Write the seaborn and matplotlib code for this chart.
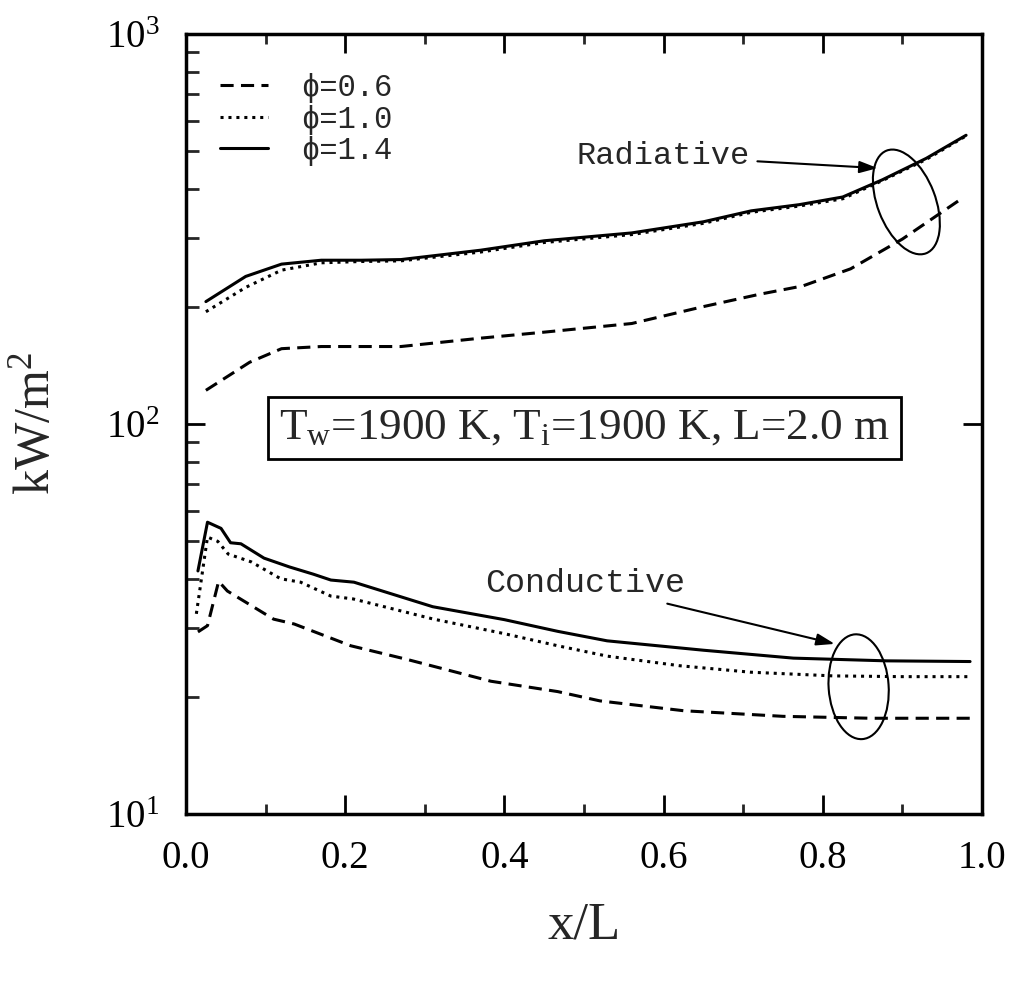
import matplotlib
matplotlib.use("Agg")
import matplotlib.pyplot as plt
import seaborn as sns
import pandas as pd
from matplotlib.patches import Ellipse
from matplotlib.transforms import IdentityTransform, ScaledTranslation
from matplotlib.lines import Line2D
from matplotlib.font_manager import FontProperties
from matplotlib.ticker import MultipleLocator, FormatStrFormatter, LogLocator, NullFormatter

# ---------------- data ----------------
phi_labels = ["\u03d5=0.6", "\u03d5=1.0", "\u03d5=1.4"]

# Radiative flux, kW/m^2
rad_x_06 = [0.025, 0.08, 0.12, 0.17, 0.27, 0.37, 0.45, 0.56, 0.65, 0.72, 0.775, 0.835, 0.90, 0.97]
rad_y_06 = [122, 144, 156, 158, 158, 166, 172, 181, 200, 215, 226, 250, 298, 373]

rad_x_10 = [0.025, 0.075, 0.12, 0.17, 0.22, 0.27, 0.37, 0.45, 0.56, 0.65, 0.71, 0.77, 0.825, 0.875, 0.93, 0.98]
rad_y_10 = [194, 224, 248, 259, 261, 262, 276, 292, 306, 327, 349, 362, 378, 421, 477, 548]

rad_x_14 = [0.025, 0.075, 0.12, 0.17, 0.22, 0.27, 0.37, 0.45, 0.56, 0.65, 0.71, 0.77, 0.825, 0.875, 0.93, 0.98]
rad_y_14 = [206, 239, 257, 263, 263, 264, 279, 295, 309, 330, 352, 365, 382, 423, 480, 550]

# Conductive flux, kW/m^2
con_x_06 = [0.015, 0.027, 0.041, 0.052, 0.11, 0.136, 0.207, 0.278, 0.383, 0.467, 0.52, 0.625, 0.75, 0.86, 0.985]
con_y_06 = [29.3, 30.4, 39.5, 37.3, 31.6, 30.7, 27.0, 24.9, 21.9, 20.6, 19.5, 18.4, 17.8, 17.6, 17.6]

con_x_10 = [0.013, 0.027, 0.04, 0.053, 0.082, 0.119, 0.144, 0.182, 0.21, 0.311, 0.40, 0.467, 0.529, 0.62, 0.709, 0.813, 0.90, 0.985]
con_y_10 = [32.6, 51.3, 50.0, 46.4, 44.3, 40.1, 39.3, 36.2, 35.6, 31.6, 29.0, 27.0, 25.4, 24.0, 23.1, 22.6, 22.5, 22.5]

con_x_14 = [0.015, 0.027, 0.044, 0.056, 0.069, 0.098, 0.13, 0.16, 0.182, 0.211, 0.31, 0.40, 0.467, 0.529, 0.65, 0.763, 0.88, 0.985]
con_y_14 = [42.0, 56.0, 54.0, 49.6, 49.3, 45.3, 43.0, 41.2, 39.8, 39.3, 34.0, 31.5, 29.4, 27.8, 26.3, 25.1, 24.7, 24.6]

x_ticks = [0.0, 0.2, 0.4, 0.6, 0.8, 1.0]
box_text = "T$_{w}$=1900 K, T$_{i}$=1900 K, L=2.0 m"

# ---------------- style ----------------
sns.set_theme(style="ticks")
plt.rcParams["font.family"] = ["Liberation Serif", "DejaVu Serif"]
plt.rcParams["mathtext.default"] = "regular"
plt.rcParams["axes.linewidth"] = 2.5

mono = ["Liberation Mono", "DejaVu Sans"]

DASHED = (0, (4.3, 2.4))
DOTTED = (0, (1.0, 1.6))
SOLID = "-"
styles = [DASHED, DOTTED, SOLID]
LW = 2.2

fig = plt.figure(figsize=(10.18, 9.84), dpi=100)
ax = fig.add_axes([186 / 1018, 1 - 814 / 984, 796 / 1018, 780 / 984])

curves = [
    (rad_x_06, rad_y_06, DASHED),
    (rad_x_10, rad_y_10, DOTTED),
    (rad_x_14, rad_y_14, SOLID),
    (con_x_06, con_y_06, DASHED),
    (con_x_10, con_y_10, DOTTED),
    (con_x_14, con_y_14, SOLID),
]
for xs, ys, ls in curves:
    df = pd.DataFrame({"x": xs, "y": ys})
    sns.lineplot(data=df, x="x", y="y", ax=ax, color="black", linewidth=LW,
                 linestyle=ls, errorbar=None, legend=False)

ax.set_yscale("log")
ax.set_xlim(0, 1.0)
ax.set_ylim(10, 1000)

ax.xaxis.set_major_locator(MultipleLocator(0.2))
ax.xaxis.set_minor_locator(MultipleLocator(0.1))
ax.xaxis.set_major_formatter(FormatStrFormatter("%.1f"))
ax.yaxis.set_major_locator(LogLocator(base=10))
ax.yaxis.set_minor_locator(LogLocator(base=10, subs=range(2, 10)))
ax.yaxis.set_minor_formatter(NullFormatter())

ax.tick_params(which="major", direction="in", length=14, width=2.0,
               top=True, right=True, labelsize=28, pad=19, colors="black")
ax.tick_params(axis="x", which="minor", direction="in", length=7, width=2.0,
               top=True, bottom=True)
ax.tick_params(axis="y", which="minor", direction="in", length=9, width=2.0,
               left=True, right=False)
for sp in ax.spines.values():
    sp.set_visible(True)
    sp.set_color("black")
    sp.set_linewidth(2.5)

ax.set_xlabel("x/L", fontsize=38)
ax.set_ylabel("kW/m$^{2}$", fontsize=36)
ax.xaxis.set_label_coords(0.5, -0.112)
ax.yaxis.set_label_coords(-0.158, 0.5)

# legend
handles = [Line2D([0], [0], color="black", lw=LW, linestyle=s) for s in styles]
ax.legend(handles, phi_labels, loc="upper left", bbox_to_anchor=(0.043, 0.95),
          frameon=False, prop=FontProperties(family=mono, size=22),
          handlelength=1.55, handletextpad=1.1, labelspacing=0.05,
          borderpad=0, borderaxespad=0)

# text box
ax.text(0.501, 0.495, box_text, transform=ax.transAxes, ha="center", va="center",
        fontsize=32.5,
        bbox=dict(boxstyle="square,pad=0.25", fc="white", ec="black", lw=2))

# annotations
arrow = dict(arrowstyle="-|>,head_length=0.55,head_width=0.18", color="black",
             lw=1.5, mutation_scale=20, shrinkA=3, shrinkB=0)
ax.annotate("Radiative", xy=(0.869, 453), xycoords="data",
            xytext=(0.7085, 0.8436), textcoords="axes fraction",
            ha="right", va="center", fontsize=23, family=mono, arrowprops=arrow)
ax.annotate("Conductive", xy=(0.815, 27.3), xycoords="data",
            xytext=(0.627, 0.295), textcoords="axes fraction",
            ha="right", va="center", fontsize=24, family=mono, arrowprops=arrow)

# ellipses marking the groups (sizes in pixels, centred at data points)
for cx, cy, w, h, ang in [(0.905, 371, 58, 110, 21), (0.845, 21.2, 60, 105, 4)]:
    tr = IdentityTransform() + ScaledTranslation(cx, cy, ax.transData)
    ax.add_patch(Ellipse((0, 0), w, h, angle=ang, fill=False, ec="black",
                         lw=1.5, transform=tr, clip_on=False))

fig.savefig("out.png", dpi=100)
